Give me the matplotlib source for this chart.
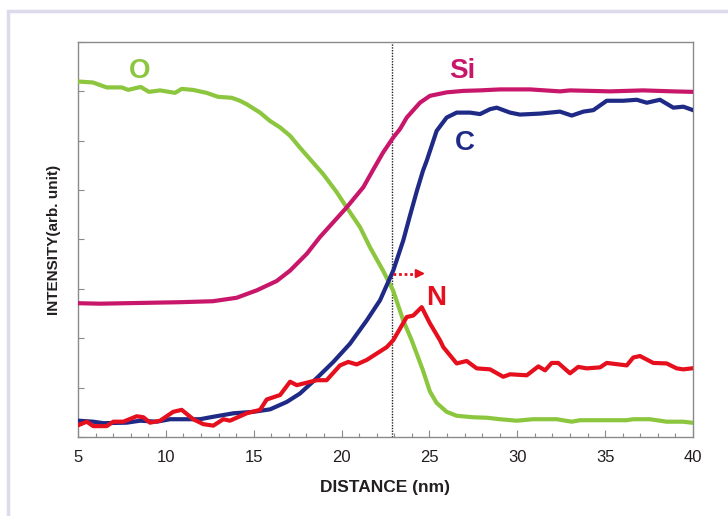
"""
Depth profile: O, Si, C, N intensity vs distance
"""

import matplotlib.pyplot as plt
from matplotlib.patches import Rectangle
from matplotlib.ticker import MultipleLocator

# --- data (distance in nm, intensity in arb. units) ---
o_x = [5.0, 5.85, 6.63, 7.49, 7.85, 8.57, 9.04, 9.67, 10.52, 10.90, 11.54, 12.32,
       12.97, 13.75, 14.22, 14.60, 15.36, 15.93, 16.50, 17.07, 17.63, 18.37, 18.94,
       19.72, 20.29, 21.05, 21.62, 22.36, 22.93, 23.51, 23.99, 24.63, 25.03, 25.41,
       25.98, 26.55, 27.48, 28.26, 29.02, 29.97, 30.90, 32.24, 33.10, 33.57, 36.23,
       36.59, 37.55, 38.50, 39.43, 39.93]
o_y = [7.20, 7.18, 7.08, 7.08, 7.03, 7.09, 6.99, 7.02, 6.97, 7.05, 7.03, 6.97,
       6.89, 6.87, 6.81, 6.74, 6.57, 6.40, 6.27, 6.10, 5.86, 5.56, 5.33,
       4.96, 4.65, 4.25, 3.84, 3.37, 2.97, 2.36, 1.96, 1.35, 0.92, 0.69,
       0.51, 0.43, 0.40, 0.39, 0.36, 0.33, 0.36, 0.36, 0.31, 0.34, 0.34,
       0.36, 0.36, 0.31, 0.31, 0.29]

si_x = [5.0, 6.25, 10.80, 12.68, 14.03, 15.17, 16.31, 17.07, 18.02, 18.77, 19.53,
        20.29, 21.24, 21.81, 22.36, 22.93, 23.33, 23.71, 24.46, 25.03, 25.98, 26.93,
        27.88, 29.02, 30.72, 32.43, 33.00, 35.28, 37.16, 38.86, 40.0]
si_y = [2.71, 2.70, 2.73, 2.75, 2.82, 2.97, 3.16, 3.37, 3.71, 4.05, 4.35,
        4.65, 5.06, 5.42, 5.76, 6.06, 6.24, 6.47, 6.77, 6.91, 6.98, 7.01,
        7.02, 7.04, 7.04, 7.00, 7.02, 7.00, 7.02, 7.00, 6.99]

c_x = [5.02, 5.87, 6.44, 7.77, 8.53, 9.48, 10.24, 11.94, 12.70, 13.84, 14.98, 15.93,
       16.88, 17.63, 18.58, 19.53, 20.48, 21.43, 22.19, 22.94, 23.51, 23.89, 24.29,
       24.63, 24.85, 25.41, 25.98, 26.55, 27.31, 27.88, 28.45, 28.83, 29.59, 30.15,
       31.29, 32.43, 33.10, 33.76, 34.33, 35.09, 36.03, 36.80, 37.37, 38.12, 38.88,
       39.45, 40.0]
c_y = [0.33, 0.31, 0.28, 0.29, 0.33, 0.31, 0.36, 0.36, 0.41, 0.48, 0.51, 0.56,
       0.71, 0.88, 1.19, 1.52, 1.89, 2.36, 2.77, 3.37, 3.98, 4.48, 4.99,
       5.39, 5.60, 6.20, 6.47, 6.57, 6.57, 6.54, 6.64, 6.67, 6.57, 6.53,
       6.55, 6.59, 6.51, 6.59, 6.62, 6.81, 6.81, 6.83, 6.77, 6.83, 6.67,
       6.69, 6.62]

n_x = [5.02, 5.50, 5.87, 6.63, 7.01, 7.58, 8.34, 8.72, 9.10, 9.67, 10.42, 10.90,
       11.56, 12.13, 12.70, 13.27, 13.65, 14.60, 15.36, 15.74, 16.50, 17.07, 17.45,
       18.02, 18.58, 19.15, 19.91, 20.38, 20.86, 21.43, 22.00, 22.57, 22.94, 23.71,
       24.08, 24.56, 25.03, 25.60, 25.79, 26.55, 27.12, 27.69, 28.45, 29.20, 29.59,
       30.54, 31.20, 31.58, 31.96, 32.33, 33.00, 33.47, 33.95, 34.71, 35.09, 36.23,
       36.60, 36.98, 37.74, 38.50, 39.07, 39.45, 39.93]
n_y = [0.24, 0.31, 0.22, 0.22, 0.31, 0.31, 0.42, 0.40, 0.29, 0.33, 0.51, 0.55,
       0.36, 0.26, 0.23, 0.36, 0.33, 0.48, 0.55, 0.76, 0.85, 1.12, 1.05,
       1.10, 1.15, 1.15, 1.45, 1.52, 1.47, 1.56, 1.69, 1.82, 1.96, 2.43,
       2.46, 2.63, 2.30, 1.96, 1.82, 1.49, 1.54, 1.39, 1.37, 1.22, 1.27,
       1.25, 1.43, 1.35, 1.50, 1.50, 1.29, 1.42, 1.39, 1.41, 1.50, 1.45,
       1.61, 1.64, 1.50, 1.49, 1.39, 1.37, 1.39]

x_ticks = [5, 10, 15, 20, 25, 30, 35, 40]
marker_x = 22.87          # dotted interface line
shift_y = 3.31            # height of the red shift arrow
shift_end = 24.75

GREEN = '#8cc63e'
MAGENTA = '#c8176a'
NAVY = '#1f2a86'
RED = '#e60f1e'
GRAY = '#8a8a8a'
TXT = '#231f20'

plt.rcParams['font.family'] = ['Liberation Sans', 'DejaVu Sans']

fig = plt.figure(figsize=(7.28, 5.16), dpi=100)

# light lavender frame round the panel
fig.patches.append(Rectangle((8 / 728, -0.1), 1.2, (516 - 10.5) / 516 + 0.1,
                             transform=fig.transFigure, fill=False,
                             edgecolor='#dcdaeb', linewidth=2.5))

ax = fig.add_axes([78 / 728, (516 - 437) / 516, 615 / 728, 395 / 516])

ax.plot(o_x, o_y, color=GREEN, lw=3, solid_joinstyle='round', zorder=3)
ax.plot(si_x, si_y, color=MAGENTA, lw=3, solid_joinstyle='round', zorder=3)
ax.plot(c_x, c_y, color=NAVY, lw=3, solid_joinstyle='round', zorder=3)
ax.plot(n_x, n_y, color=RED, lw=3, solid_joinstyle='round', zorder=4)

ax.axvline(marker_x, color='#222222', lw=1, ls=(0, (1, 1)), zorder=2)

# red dotted shift arrow
ax.plot([marker_x + 0.05, shift_end - 0.35], [shift_y, shift_y], color=RED,
        lw=2, ls=(0, (1, 1)), zorder=5)
ax.annotate('', xy=(shift_end, shift_y), xytext=(shift_end - 0.4, shift_y),
            arrowprops=dict(arrowstyle='-|>,head_length=0.5,head_width=0.25',
                            color=RED, lw=1.5, shrinkA=0, shrinkB=0), zorder=5)

lab = dict(fontsize=20, fontweight='bold', ha='center', va='center')
ax.text(8.53, 7.41, 'O', color=GREEN, **lab)
ax.text(26.85, 7.41, 'Si', color=MAGENTA, **lab)
ax.text(27.0, 5.96, 'C', color=NAVY, **lab)
ax.text(25.4, 2.81, 'N', color=RED, **lab)

ax.set_xlim(5, 40)
ax.set_ylim(0, 8)
ax.set_xticks(x_ticks)
ax.xaxis.set_minor_locator(MultipleLocator(1))
ax.set_yticks(range(0, 9))
ax.set_yticklabels([])

ax.tick_params(axis='x', which='major', direction='in', length=5, width=0.8,
               color=GRAY, pad=9, labelsize=12, labelcolor=TXT)
ax.tick_params(axis='x', which='minor', direction='in', length=3, width=0.8,
               color=GRAY)
ax.tick_params(axis='y', direction='in', length=4, width=0.8, color=GRAY)
for t in ax.get_xticklabels():
    t.set_family(['Liberation Sans Narrow', 'Liberation Sans', 'DejaVu Sans'])

for s in ax.spines.values():
    s.set_color(GRAY)
    s.set_linewidth(1)

ax.set_xlabel('DISTANCE (nm)', fontsize=12.5, fontweight='bold', color=TXT,
              labelpad=11)
ax.set_ylabel('INTENSITY(arb. unit)', fontsize=11, fontweight='bold', color=TXT,
              labelpad=9)

fig.savefig('out.png', dpi=100)
